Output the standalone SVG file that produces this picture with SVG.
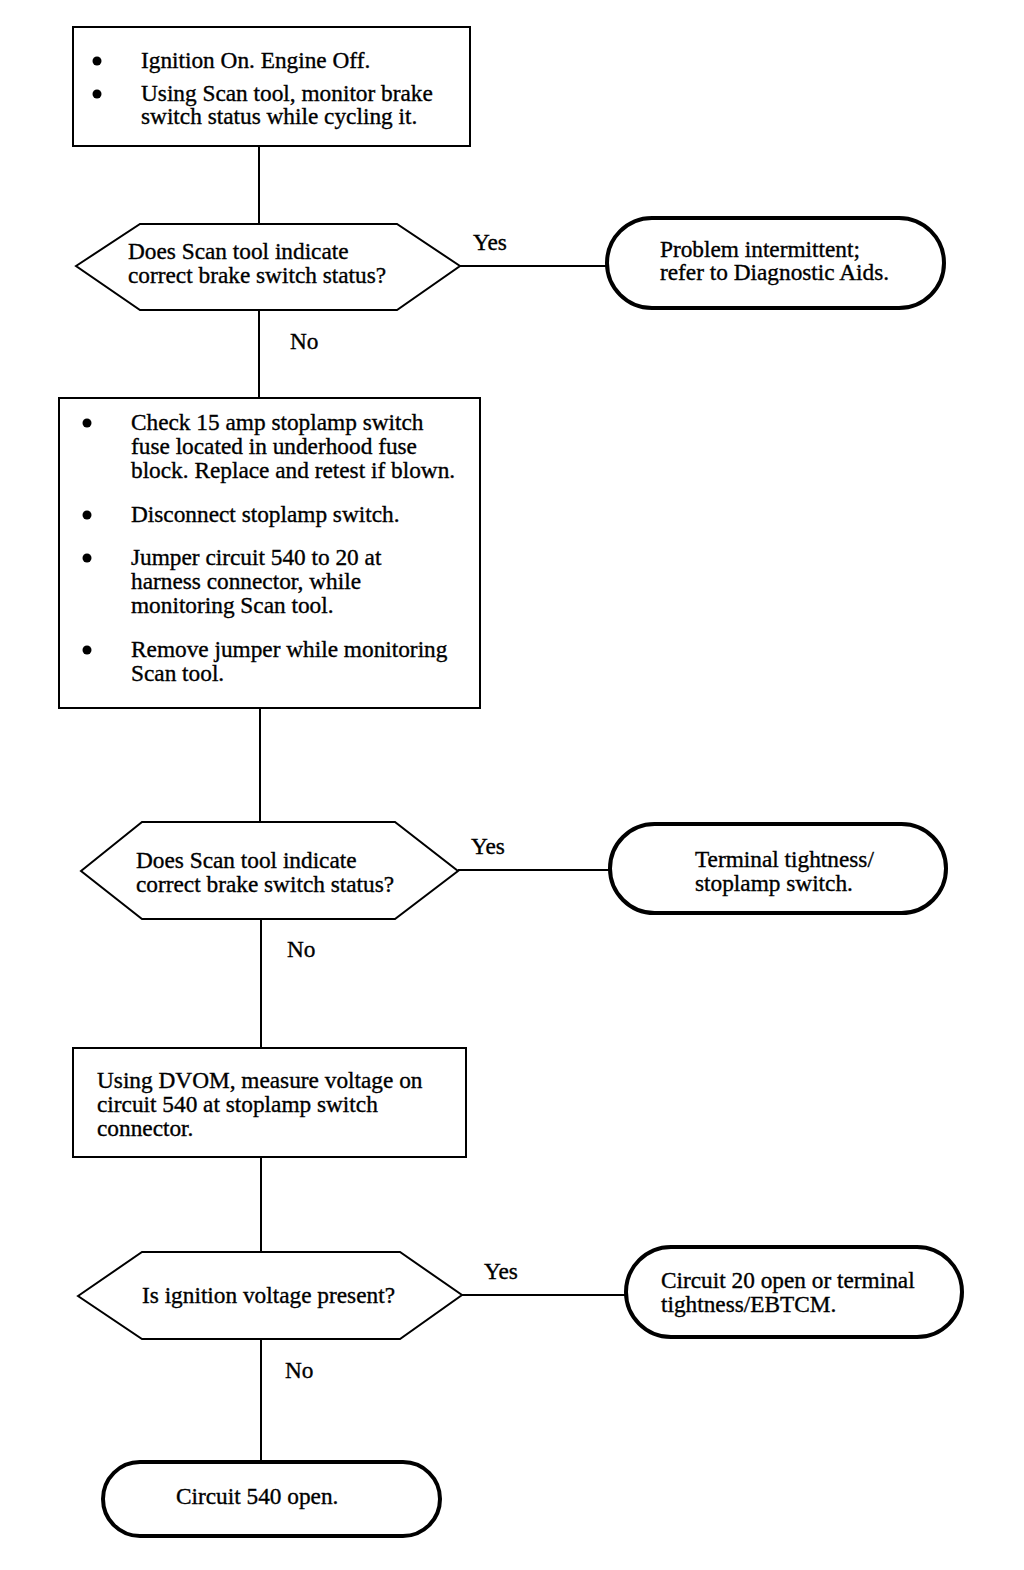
<svg xmlns="http://www.w3.org/2000/svg" width="1024" height="1570" viewBox="0 0 1024 1570">
<style>
text{font-family:"Liberation Serif","Times New Roman",serif;font-size:23.3px;fill:#000;stroke:#000;stroke-width:0.35}
.box{fill:#fff;stroke:#000;stroke-width:2}
.dec{fill:#fff;stroke:#000;stroke-width:2;stroke-linejoin:miter}
.term{fill:#fff;stroke:#000;stroke-width:4}
.con{stroke:#000;stroke-width:2;fill:none}
.dot{fill:#000}
</style>
<rect width="1024" height="1570" fill="#fff"/>
<g id="connectors">
<line class="con" x1="259" y1="146" x2="259" y2="223"/>
<line class="con" x1="460" y1="266" x2="607" y2="266"/>
<line class="con" x1="259" y1="310" x2="259" y2="398"/>
<line class="con" x1="260" y1="708" x2="260" y2="822"/>
<line class="con" x1="458" y1="870" x2="610" y2="870"/>
<line class="con" x1="261" y1="919" x2="261" y2="1048"/>
<line class="con" x1="261" y1="1157" x2="261" y2="1252"/>
<line class="con" x1="462" y1="1295" x2="626" y2="1295"/>
<line class="con" x1="261" y1="1339" x2="261" y2="1462"/>
<text x="473" y="250">Yes</text>
<text x="290" y="349">No</text>
<text x="471" y="854">Yes</text>
<text x="287" y="957">No</text>
<text x="484" y="1279">Yes</text>
<text x="285" y="1378">No</text>
</g>
<g id="step1">
<rect class="box" x="73" y="27" width="397" height="119"/>
<circle class="dot" cx="97" cy="61" r="4.5"/>
<circle class="dot" cx="97" cy="94" r="4.5"/>
<text x="141" y="68">Ignition On. Engine Off.</text>
<text x="141" y="101">Using Scan tool, monitor brake</text>
<text x="141" y="124">switch status while cycling it.</text>
</g>
<g id="decision1">
<polygon class="dec" points="76,266 140,224 397,224 460,266 397,310 140,310"/>
<text x="128" y="259">Does Scan tool indicate</text>
<text x="128" y="283">correct brake switch status?</text>
</g>
<g id="result1">
<rect class="term" x="607" y="218" width="337" height="90" rx="45" ry="45"/>
<text x="660" y="257">Problem intermittent;</text>
<text x="660" y="280">refer to Diagnostic Aids.</text>
</g>
<g id="step2">
<rect class="box" x="59" y="398" width="421" height="310"/>
<circle class="dot" cx="87" cy="423" r="4.5"/>
<circle class="dot" cx="87" cy="515" r="4.5"/>
<circle class="dot" cx="87" cy="558" r="4.5"/>
<circle class="dot" cx="87" cy="650" r="4.5"/>
<text x="131" y="430">Check 15 amp stoplamp switch</text>
<text x="131" y="454">fuse located in underhood fuse</text>
<text x="131" y="478">block. Replace and retest if blown.</text>
<text x="131" y="522">Disconnect stoplamp switch.</text>
<text x="131" y="565">Jumper circuit 540 to 20 at</text>
<text x="131" y="589">harness connector, while</text>
<text x="131" y="613">monitoring Scan tool.</text>
<text x="131" y="657">Remove jumper while monitoring</text>
<text x="131" y="681">Scan tool.</text>
</g>
<g id="decision2">
<polygon class="dec" points="81,871 142,822 395,822 458,871 395,919 142,919"/>
<text x="136" y="868">Does Scan tool indicate</text>
<text x="136" y="892">correct brake switch status?</text>
</g>
<g id="result2">
<rect class="term" x="610" y="824" width="336" height="89" rx="44.5" ry="44.5"/>
<text x="695" y="867">Terminal tightness/</text>
<text x="695" y="891">stoplamp switch.</text>
</g>
<g id="step3">
<rect class="box" x="73" y="1048" width="393" height="109"/>
<text x="97" y="1088">Using DVOM, measure voltage on</text>
<text x="97" y="1112">circuit 540 at stoplamp switch</text>
<text x="97" y="1136">connector.</text>
</g>
<g id="decision3">
<polygon class="dec" points="78,1296 142,1252 400,1252 462,1295 400,1339 142,1339"/>
<text x="142" y="1303">Is ignition voltage present?</text>
</g>
<g id="result3">
<rect class="term" x="626" y="1247" width="336" height="90" rx="45" ry="45"/>
<text x="661" y="1288">Circuit 20 open or terminal</text>
<text x="661" y="1312">tightness/EBTCM.</text>
</g>
<g id="result4">
<rect class="term" x="103" y="1462" width="337" height="74" rx="37" ry="37"/>
<text x="176" y="1504">Circuit 540 open.</text>
</g>
</svg>
